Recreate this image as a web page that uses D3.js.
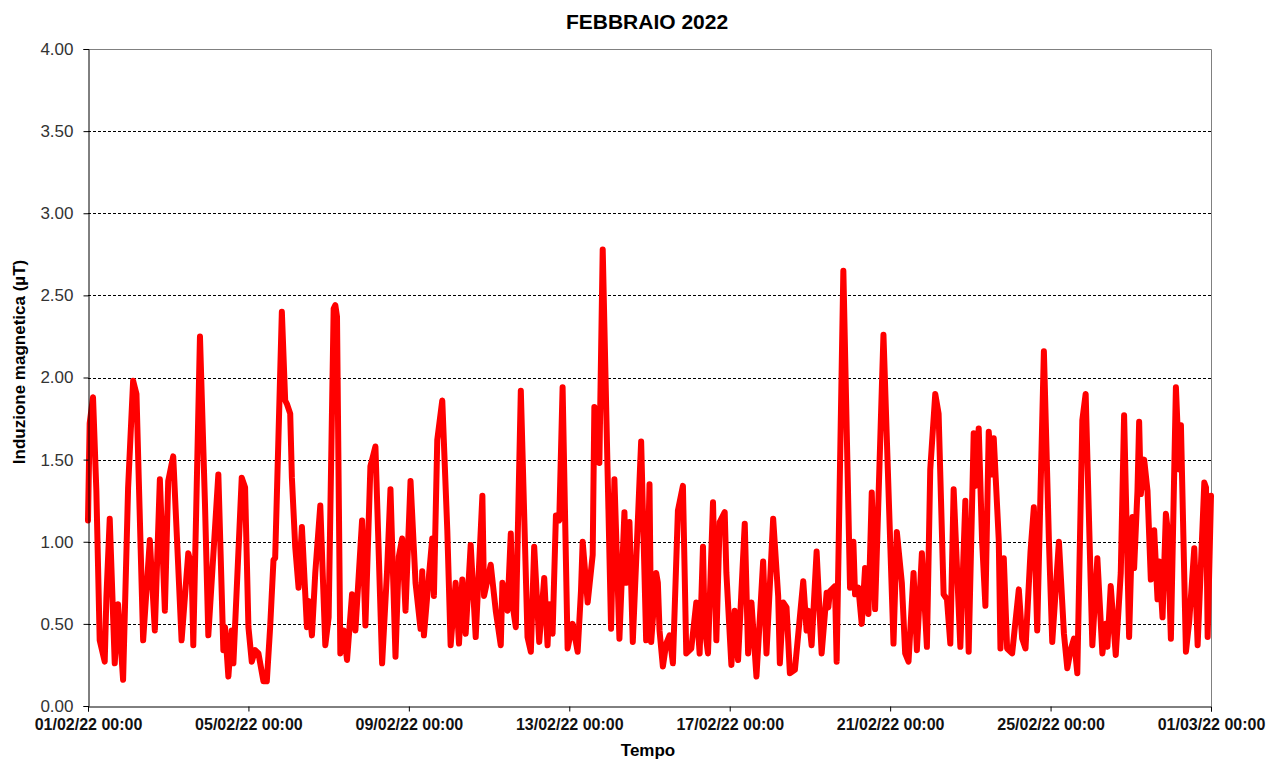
<!DOCTYPE html>
<html>
<head>
<meta charset="utf-8">
<script src="https://cdn.jsdelivr.net/npm/d3@7"></script>
<style>
  html, body { margin: 0; padding: 0; background: #fff; }
  svg { display: block; font-family: "Liberation Sans", Arial, sans-serif; }
</style>
</head>
<body>
<svg id="chart" width="1267" height="760"></svg>
<script>
// hours since 01/02/22 00:00 (peaks and troughs)
const hours = [
  0, 1, 3, 5, 7, 10, 11, 13, 16, 18, 21, 24, 27, 29, 33, 37, 40, 43, 46, 48,
  51, 56, 60, 62, 63, 67, 70, 72, 78, 81, 82, 84, 86, 87, 92, 94, 96, 98, 100, 102,
  105, 107, 109, 111, 112, 116, 118, 119, 121, 122, 124, 126, 128, 131, 132, 134, 136, 139, 142, 144,
  147, 148, 149, 151, 153, 155, 158, 160, 164, 166, 169, 172, 176, 179, 181, 184, 186, 188, 190, 193, 196,
  199, 200, 201, 204, 206, 207, 209, 212, 215, 217, 220, 222, 224, 226, 229, 232, 236, 237, 241, 244,
  247, 248, 250, 251, 253, 254, 256, 259, 263, 265, 267, 270, 273, 275, 276, 278, 280, 282, 284, 287,
  290, 293, 295, 296, 299, 302, 303, 306, 308, 313, 315, 318, 321, 322, 324, 326, 331, 334, 336, 337,
  340, 341, 342, 344, 346, 348, 350, 353, 356, 358, 361, 364, 366, 368, 369, 371, 374, 376, 378, 381,
  382, 385, 387, 389, 393, 395, 397, 400, 404, 406, 410, 413, 414, 416, 418, 420, 423, 428, 430, 431,
  433, 436, 439, 442, 443, 444, 447, 448, 452, 456, 458, 459, 461, 463, 465, 467, 469, 471, 476, 482,
  484, 487, 489, 491, 494, 496, 499, 502, 504, 507, 509, 512, 514, 516, 518, 521, 522, 525, 527, 530,
  531, 533, 535, 537, 539, 541, 542, 545, 546, 548, 550, 553, 557, 559, 561, 564, 566, 568, 572, 575,
  577, 581, 584, 586, 588, 590, 592, 595, 597, 601, 604, 607, 609, 610, 612, 615, 618, 620, 623, 625,
  626, 628, 629, 630, 632, 634, 636, 638, 640, 641, 643, 645, 646, 648, 651, 653, 654, 657, 659, 662,
  664, 668, 669, 670, 672
];

// magnetic induction (µT)
const values = [
  1.13, 1.72, 1.88, 1.31, 0.40, 0.27, 0.66, 1.14, 0.26, 0.62, 0.16, 1.33, 1.98, 1.90, 0.40, 1.01, 0.46, 1.38, 0.58, 1.37,
  1.52, 0.40, 0.93, 0.85, 0.37, 2.25, 1.23, 0.43, 1.41, 0.34, 0.48, 0.18, 0.46, 0.26, 1.39, 1.33, 0.48, 0.27, 0.34, 0.32,
  0.15, 0.15, 0.48, 0.89, 0.90, 2.40, 1.86, 1.84, 1.78, 1.39, 0.97, 0.72, 1.09, 0.48, 0.64, 0.43, 0.81, 1.22, 0.37, 0.54,
  2.42, 2.44, 2.37, 0.32, 0.46, 0.28, 0.68, 0.46, 1.13, 0.49, 1.46, 1.58, 0.26, 0.83, 1.32, 0.30, 0.91, 1.02, 0.58, 1.37, 0.75,
  0.47, 0.82, 0.43, 0.79, 1.02, 0.67, 1.62, 1.86, 1.07, 0.37, 0.75, 0.38, 0.77, 0.44, 0.98, 0.42, 1.28, 0.67, 0.86, 0.58,
  0.37, 0.75, 0.66, 0.58, 1.05, 0.62, 0.48, 1.92, 0.42, 0.33, 0.97, 0.39, 0.78, 0.37, 0.62, 0.44, 1.16, 1.13, 1.94, 0.35,
  0.50, 0.33, 0.70, 1.00, 0.63, 0.92, 1.82, 1.48, 2.78, 0.47, 1.38, 0.41, 1.18, 0.75, 1.12, 0.39, 1.61, 0.40, 1.35, 0.39,
  0.81, 0.75, 0.46, 0.24, 0.38, 0.43, 0.26, 1.19, 1.34, 0.32, 0.35, 0.63, 0.32, 0.97, 0.48, 0.32, 1.24, 0.40, 1.12, 1.18,
  0.81, 0.25, 0.58, 0.28, 1.11, 0.32, 0.63, 0.18, 0.88, 0.32, 1.14, 0.67, 0.26, 0.63, 0.60, 0.20, 0.22, 0.76, 0.46, 0.58,
  0.37, 0.94, 0.32, 0.69, 0.60, 0.70, 0.73, 0.27, 2.65, 0.72, 1.00, 0.68, 0.72, 0.50, 0.84, 0.56, 1.30, 0.59, 2.26, 0.38,
  1.06, 0.75, 0.32, 0.27, 0.81, 0.34, 0.93, 0.36, 1.44, 1.90, 1.78, 0.68, 0.65, 0.38, 1.32, 0.60, 0.36, 1.25, 0.33, 1.66,
  1.34, 1.69, 1.01, 0.61, 1.67, 1.41, 1.63, 1.01, 0.35, 0.90, 0.35, 0.32, 0.71, 0.41, 0.35, 0.94, 1.21, 0.46, 2.16, 1.01,
  0.39, 1.00, 0.44, 0.23, 0.34, 0.41, 0.20, 1.74, 1.90, 0.37, 0.90, 0.32, 0.50, 0.36, 0.73, 0.31, 0.81, 1.77, 0.42, 1.15,
  0.84, 1.31, 1.73, 1.29, 1.50, 1.31, 0.77, 1.07, 0.65, 0.88, 0.54, 1.17, 1.08, 0.41, 1.94, 1.44, 1.71, 0.33, 0.52, 0.96,
  0.37, 1.36, 1.33, 0.42, 1.28
];

const yTicks = [0, 0.5, 1, 1.5, 2, 2.5, 3, 3.5, 4];
const xTickDays = [1, 5, 9, 13, 17, 21, 25, 29]; // day of month, 29 -> 01/03

const start = new Date(2022, 1, 1, 0, 0);
const end = new Date(2022, 2, 1, 0, 0);
const data = hours.map((h, i) => ({ t: d3.timeHour.offset(start, h), v: values[i] }));

const plot = { left: 88, right: 1211, top: 49, bottom: 706 };

const svg = d3.select('#chart');

const x = d3.scaleTime().domain([start, end]).range([plot.left, plot.right]);
const y = d3.scaleLinear().domain([0, 4]).range([plot.bottom, plot.top]);

const fmt = d3.timeFormat('%d/%m/%y %H:%M');

// gridlines
svg.append('g')
  .selectAll('line')
  .data(yTicks.filter(d => d > 0 && d < 4))
  .join('line')
  .attr('x1', plot.left).attr('x2', plot.right)
  .attr('y1', d => Math.round(y(d)) + 0.5).attr('y2', d => Math.round(y(d)) + 0.5)
  .attr('stroke', '#000').attr('stroke-width', 1).attr('stroke-dasharray', '3,2');

// frame top + right
svg.append('path')
  .attr('d', `M${plot.left},${plot.top + 0.5}H${plot.right + 0.5}V${plot.bottom}`)
  .attr('fill', 'none').attr('stroke', '#808080').attr('stroke-width', 1);

// the series
svg.append('path')
  .datum(data)
  .attr('fill', 'none')
  .attr('stroke', '#ff0000')
  .attr('stroke-width', 6)
  .attr('stroke-linejoin', 'round')
  .attr('stroke-linecap', 'round')
  .attr('d', d3.line().x(d => x(d.t)).y(d => y(d.v)));

// y axis
const yAxis = svg.append('g')
  .attr('transform', `translate(${plot.left + 0.5},0)`)
  .call(d3.axisLeft(y).tickValues(yTicks).tickFormat(d3.format('.2f')).tickSize(5).tickPadding(10));
yAxis.select('.domain').attr('stroke', '#000');
yAxis.selectAll('.tick text')
  .attr('font-size', 17).attr('fill', '#333').attr('font-family', '"Liberation Sans", Arial, sans-serif');

// x axis
const xAxis = svg.append('g')
  .attr('transform', `translate(0,${plot.bottom + 0.5})`)
  .call(d3.axisBottom(x)
    .tickValues(xTickDays.map(d => d3.timeDay.offset(start, d - 1)))
    .tickFormat(fmt).tickSize(5).tickPadding(7));
xAxis.select('.domain').attr('stroke', '#000');
xAxis.selectAll('.tick text')
  .attr('font-size', 16).attr('font-weight', 'bold').attr('fill', '#111')
  .attr('font-family', '"Liberation Sans", Arial, sans-serif');

// titles
svg.append('text')
  .attr('x', 647).attr('y', 29)
  .attr('text-anchor', 'middle')
  .attr('font-size', 21).attr('font-weight', 'bold')
  .text('FEBBRAIO 2022');

svg.append('text')
  .attr('x', 648).attr('y', 756)
  .attr('text-anchor', 'middle')
  .attr('font-size', 17).attr('font-weight', 'bold')
  .text('Tempo');

svg.append('text')
  .attr('transform', 'translate(25,362) rotate(-90)')
  .attr('text-anchor', 'middle')
  .attr('font-size', 17).attr('font-weight', 'bold')
  .text('Induzione magnetica (µT)');
</script>
</body>
</html>
